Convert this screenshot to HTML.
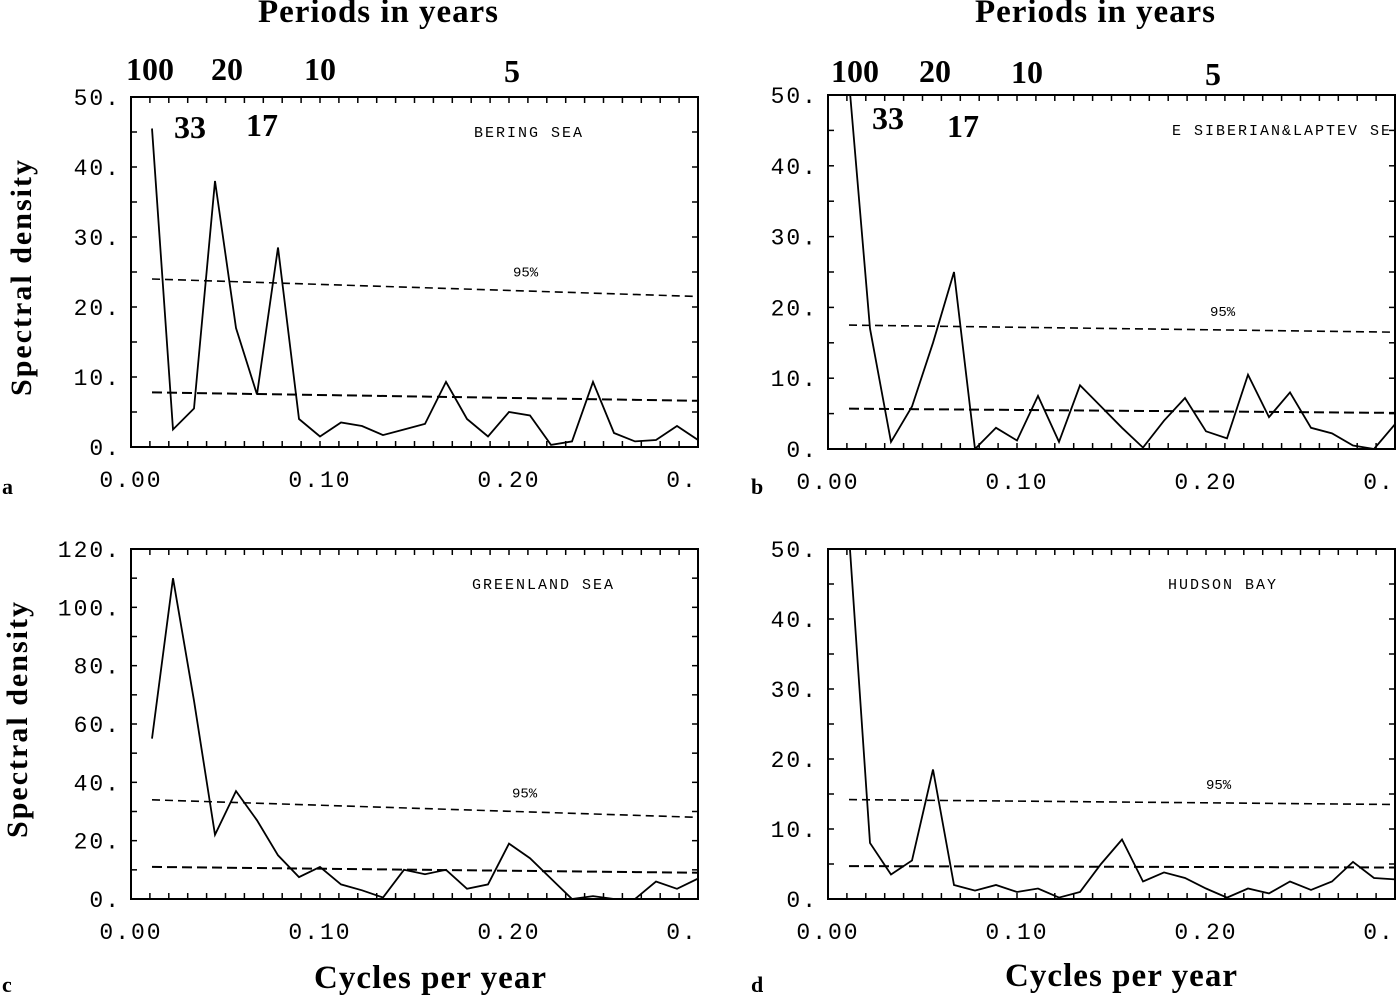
<!DOCTYPE html>
<html><head><meta charset="utf-8">
<style>
html,body{margin:0;padding:0;background:#fff;}
svg{display:block;}
.mono{font-family:"Liberation Mono",monospace;}
.serif{font-family:"Liberation Serif",serif;font-weight:bold;}
</style></head>
<body>
<svg id="fig" width="1400" height="996" viewBox="0 0 1400 996" xmlns="http://www.w3.org/2000/svg">
<g class="serif" fill="#000">
<text x="378" y="22" font-size="33" text-anchor="middle" textLength="240">Periods in years</text>
<text x="1095" y="22" font-size="33" text-anchor="middle" textLength="240">Periods in years</text>
<text x="150" y="80" font-size="32" text-anchor="middle">100</text>
<text x="227" y="80" font-size="32" text-anchor="middle">20</text>
<text x="320" y="80" font-size="32" text-anchor="middle">10</text>
<text x="512" y="82" font-size="32" text-anchor="middle">5</text>
<text x="190" y="138" font-size="32" text-anchor="middle">33</text>
<text x="262" y="136" font-size="32" text-anchor="middle">17</text>
<text x="855" y="82" font-size="32" text-anchor="middle">100</text>
<text x="935" y="82" font-size="32" text-anchor="middle">20</text>
<text x="1027" y="83" font-size="32" text-anchor="middle">10</text>
<text x="1213" y="85" font-size="32" text-anchor="middle">5</text>
<text x="888" y="129" font-size="32" text-anchor="middle">33</text>
<text x="963" y="137" font-size="32" text-anchor="middle">17</text>
<text transform="translate(31,278) rotate(-90)" font-size="30" text-anchor="middle" textLength="236">Spectral density</text>
<text transform="translate(27,720) rotate(-90)" font-size="30" text-anchor="middle" textLength="236">Spectral density</text>
<text x="430" y="988" font-size="33" text-anchor="middle" textLength="232">Cycles per year</text>
<text x="1121" y="986" font-size="33" text-anchor="middle" textLength="232">Cycles per year</text>
<text x="2" y="494" font-size="22">a</text>
<text x="751" y="494" font-size="22">b</text>
<text x="2" y="992" font-size="22">c</text>
<text x="751" y="992" font-size="22">d</text>
</g>
</svg>
<script>
const freqIdx = [1,2,3,4,5,6,7,8,9,10,11,12,13,14,15,16,17,18,19,20,21,22,23,24,25,26,27];
const xTicks = [0.00,0.10,0.20,0.30];
const xTickLabels = ["0.00","0.10","0.20","0."];
const valsA = [45.5,2.5,5.5,38,17,7.5,28.5,4,1.5,3.5,3,1.7,2.5,3.3,9.3,4,1.5,5,4.5,0.3,0.8,9.3,2,0.8,1,3,1];
const valsB = [52,17,1,6,15,25,0,3,1.2,7.5,1,9,6,3,0.2,4,7.2,2.5,1.5,10.5,4.5,8,3,2.2,0.5,0,3.5];
const valsC = [55,110,68,22,37,27,15,7.5,11,5,3,0.5,10,8.5,10,3.5,5,19,14,7,0,1,0,0,6,3.5,7];
const valsD = [52,8,3.5,5.5,18.5,2,1.2,2,1,1.5,0.2,1,5,8.5,2.5,3.8,3,1.5,0.2,1.5,0.8,2.5,1.3,2.5,5.3,3,2.8];
const sig95A = [24,21.5], meanA = [7.8,6.6];
const sig95B = [17.5,16.5], meanB = [5.7,5.1];
const sig95C = [34,28], meanC = [11,9];
const sig95D = [14.2,13.5], meanD = [4.7,4.5];
const yTicksA = [0,10,20,30,40,50];
const yTicksC = [0,20,40,60,80,100,120];
const NS="http://www.w3.org/2000/svg";
const svg=document.getElementById('fig');
function mk(tag,attrs,parent){const e=document.createElementNS(NS,tag);for(const k in attrs)e.setAttribute(k,attrs[k]);(parent||svg).appendChild(e);return e;}
function panel(id,L,R,T,B,ymax,yticks,minorStep,vals,sig,mean,title,titleX,sigLabelX){
  const g=mk('g',{});
  
  
  const xs=f=>L+(f/0.3)*(R-L);
  const ys=v=>B-(v/ymax)*(B-T);
  const defs=mk('clipPath',{id:'clip'+id},g);mk('rect',{x:L,y:T,width:R-L,height:B-T},defs);
  const frame=mk('rect',{x:L,y:T,width:R-L,height:B-T,fill:'none',stroke:'#000','stroke-width':2},g);
  
  
  for(let i=1;i<30;i++){const x=xs(i*0.01);
    mk('line',{x1:x,x2:x,y1:B,y2:B-6,stroke:'#000','stroke-width':1.5},g);
    mk('line',{x1:x,x2:x,y1:T,y2:T+6,stroke:'#000','stroke-width':1.5},g);}
  for(let v=0;v<=ymax;v+=minorStep){const y=ys(v);
    mk('line',{x1:L,x2:L+6,y1:y,y2:y,stroke:'#000','stroke-width':1.5},g);
    mk('line',{x1:R,x2:R-6,y1:y,y2:y,stroke:'#000','stroke-width':1.5},g);}
  yticks.forEach(v=>{const t=mk('text',{x:L-10,y:ys(v)+8,'font-size':23,'text-anchor':'end',class:'mono','letter-spacing':'2'},g);t.textContent=v+'.';
    
    });
  xTicks.forEach((f,i)=>{const t=mk('text',{x:xs(f)+(i==3?-16:0),y:B+40,'font-size':23,'text-anchor':'middle',class:'mono','letter-spacing':'2'},g);t.textContent=xTickLabels[i];
    
    });
  const x0=xs(1/90), x1=R;
  const l1=mk('line',{x1:x0,x2:x1,y1:ys(sig[0]),y2:ys(sig[1]),stroke:'#000','stroke-width':1.6,'stroke-dasharray':'8,5'},g);
  
  
  const l2=mk('line',{x1:x0,x2:x1,y1:ys(mean[0]),y2:ys(mean[1]),stroke:'#000','stroke-width':2,'stroke-dasharray':'10,5'},g);
  
  
  const st=mk('text',{x:sigLabelX,y:ys(sig[0]+(sig[1]-sig[0])*((sigLabelX-x0)/(x1-x0)))-14,'font-size':14,class:'mono'},g);st.textContent='95%';
  
  
  const pts=freqIdx.map((k,i)=>xs(k/90).toFixed(1)+','+ys(vals[i]).toFixed(1)).join(' ');
  const pl=mk('polyline',{points:pts,fill:'none',stroke:'#000','stroke-width':1.8,'clip-path':'url(#clip'+id+')'},g);
  
  
  const tt=mk('text',{x:titleX,y:T+40,'font-size':15,class:'mono','letter-spacing':'2'},g);tt.textContent=title;
  
  
}
panel('a',131,698,97,447,50,yTicksA,5,valsA,sig95A,meanA,'BERING SEA',474,513);
panel('b',828,1395,95,449,50,yTicksA,5,valsB,sig95B,meanB,'E SIBERIAN&LAPTEV SE',1172,1210);
panel('c',131,698,549,899,120,yTicksC,10,valsC,sig95C,meanC,'GREENLAND SEA',472,512);
panel('d',828,1395,549,899,50,yTicksA,5,valsD,sig95D,meanD,'HUDSON BAY',1168,1206);
</script>
</body></html>
